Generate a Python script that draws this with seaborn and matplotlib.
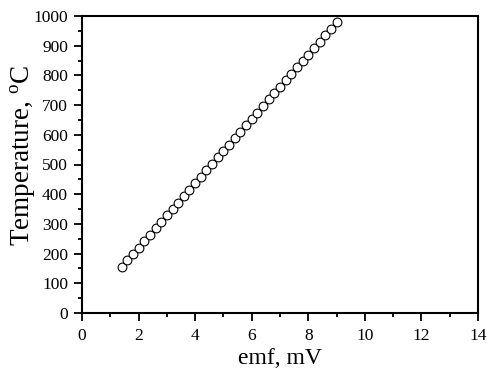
import matplotlib
matplotlib.use("Agg")
import matplotlib.pyplot as plt
import seaborn as sns
import pandas as pd
from matplotlib.ticker import MultipleLocator

emf = [1.4, 1.6, 1.8, 2.0, 2.2, 2.4, 2.6, 2.8, 3.0, 3.2, 3.4, 3.6, 3.8, 4.0,
       4.2, 4.4, 4.6, 4.8, 5.0, 5.2, 5.4, 5.6, 5.8, 6.0, 6.2, 6.4, 6.6, 6.8,
       7.0, 7.2, 7.4, 7.6, 7.8, 8.0, 8.2, 8.4, 8.6, 8.8, 9.0]
temperature = [155, 177, 198, 220, 242, 264, 285, 307, 329, 350, 372, 394,
               415, 437, 459, 480, 502, 524, 545, 567, 589, 610, 632, 654,
               675, 697, 719, 740, 762, 784, 805, 827, 849, 870, 892, 914,
               935, 957, 979]

sns.set_theme(style="ticks")
plt.rcParams['font.family'] = ['Liberation Serif', 'DejaVu Serif']
plt.rcParams['mathtext.fontset'] = 'custom'
plt.rcParams['mathtext.rm'] = 'Liberation Serif'

df = pd.DataFrame({"emf": emf, "T": temperature})

fig = plt.figure(figsize=(4.87, 3.73), dpi=100)
# axes box: x 82..478 px, y 16..313 px
ax = fig.add_axes([82 / 487, 60 / 373, 396 / 487, 297 / 373])
sns.scatterplot(data=df, x="emf", y="T", ax=ax, marker="o", s=40,
                facecolor="white", edgecolor="black", linewidth=0.8, zorder=3)

ax.set_xlim(0, 14)
ax.set_ylim(0, 1000)
ax.xaxis.set_major_locator(MultipleLocator(2))
ax.xaxis.set_minor_locator(MultipleLocator(1))
ax.yaxis.set_major_locator(MultipleLocator(100))
ax.yaxis.set_minor_locator(MultipleLocator(50))
ax.tick_params(which="major", direction="out", length=6, width=1.3,
               labelsize=12.5, color="black", labelcolor="black")
ax.tick_params(which="minor", direction="out", length=3, width=1.3, color="black")
ax.tick_params(axis="x", which="major", pad=5)
ax.tick_params(axis="y", which="major", pad=4)
ax.tick_params(top=False, right=False, which="both")
for sp in ax.spines.values():
    sp.set_visible(True)
    sp.set_linewidth(1.5)
    sp.set_color("black")

ax.set_xlabel("emf, mV", fontsize=17, color="black", labelpad=3)
ax.set_ylabel("Temperature, $^{\\mathrm{o}}$C", fontsize=19.5, color="black")
ax.yaxis.set_label_coords(-0.112, 0.53)

fig.savefig("out.png", dpi=100)
